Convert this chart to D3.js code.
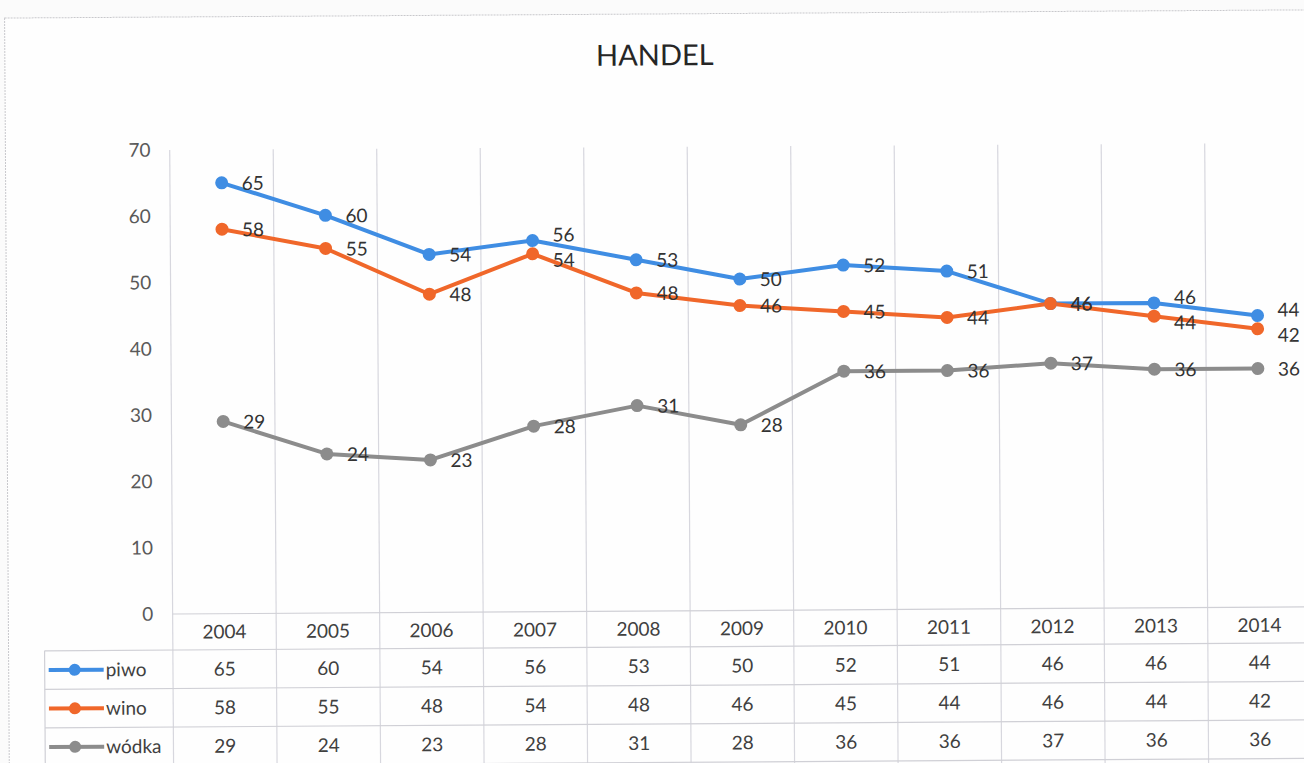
<!DOCTYPE html>
<html>
<head>
<meta charset="utf-8">
<script src="https://cdn.jsdelivr.net/npm/d3@7/dist/d3.min.js"></script>
<style>
  html, body { margin: 0; padding: 0; background: #fbfbfb; }
  svg { display: block; }
  text { font-family: Lato, "Open Sans", sans-serif; }
</style>
</head>
<body>
<svg id="chart" width="1304" height="763"></svg>
<script>
const title = "HANDEL";
const years = ["2004","2005","2006","2007","2008","2009","2010","2011","2012","2013","2014"];
const piwo  = [65, 60, 54, 56, 53, 50, 52, 51, 46, 46, 44];
const wino  = [58, 55, 48, 54, 48, 46, 45, 44, 46, 44, 42];
const wodka = [29, 24, 23, 28, 31, 28, 36, 36, 37, 36, 36];
const seriesNames = ["piwo", "wino", "wódka"];
const seriesColors = ["#3f8de3", "#f0672a", "#8c8c8c"];
const yTicks = [0, 10, 20, 30, 40, 50, 60, 70];

const series = [piwo, wino, wodka].map((vals, i) => ({ name: seriesNames[i], values: vals, color: seriesColors[i] }));

const svg = d3.select("#chart");

const root = svg.append("g").attr("transform", "rotate(-0.36, 650, 400)");

// chart area
root.append("rect").attr("x", 7).attr("y", 14).attr("width", 1400).attr("height", 800)
  .attr("fill", "#fefefe").attr("stroke", "#c8c8cc").attr("stroke-width", 1).attr("stroke-dasharray", "2,1");

const x = d3.scaleBand().domain(years).range([171.3, 171.3 + 11 * 103.5]).padding(0);
const y = d3.scaleLinear().domain([0, 70]).range([611, 147]);

const tableTop = 611, rowLines = [647, 685.5, 724, 762.5];
const tableBottom = 800;

// title
root.append("text").attr("x", 657).attr("y", 58).attr("text-anchor", "middle")
  .attr("dominant-baseline", "middle").attr("font-size", 29).attr("fill", "#262626").text(title);

// vertical gridlines (extend through table)
const grid = root.append("g");
const bounds = years.map(d => x(d)).concat([x(years[years.length - 1]) + x.bandwidth()]);
grid.selectAll("line.v").data(bounds).join("line")
  .attr("x1", d => d).attr("x2", d => d)
  .attr("y1", y(70)).attr("y2", tableBottom)
  .attr("stroke", "#d7d7de").attr("stroke-width", 1.2);

grid.append("line").attr("x1", x.range()[0]).attr("x2", 1400)
  .attr("y1", tableTop).attr("y2", tableTop).attr("stroke", "#d0d0d6").attr("stroke-width", 1.2);
grid.selectAll("line.r").data(rowLines).join("line")
  .attr("x1", 43).attr("x2", 1400).attr("y1", d => d).attr("y2", d => d)
  .attr("stroke", "#d0d0d6").attr("stroke-width", 1.2);
grid.append("line").attr("x1", 43).attr("x2", 43).attr("y1", rowLines[0]).attr("y2", tableBottom)
  .attr("stroke", "#d0d0d6").attr("stroke-width", 1.2);

// y axis labels
const yAxis = d3.axisLeft(y).tickValues(yTicks).tickSize(0).tickPadding(0);
const yg = root.append("g").attr("transform", "translate(152,0)").call(yAxis);
yg.select(".domain").remove();
yg.selectAll("text").attr("font-size", 19).attr("fill", "#595959")
  .style("font-family", "Lato, 'Open Sans', sans-serif");

// header row (years)
const xAxis = d3.axisBottom(x).tickSize(0).tickPadding(0);
const xg = root.append("g").attr("transform", `translate(0,${(tableTop + rowLines[0]) / 2})`).call(xAxis);
xg.select(".domain").remove();
xg.selectAll("text").attr("dy", "0.35em").attr("font-size", 19).attr("fill", "#404040")
  .style("font-family", "Lato, 'Open Sans', sans-serif");

// lines and markers
const cx = i => x(years[i]) + x.bandwidth() / 2;
const lineGen = d3.line().x((d, i) => cx(i)).y(d => y(d));
const plot = root.append("g");
series.forEach(s => {
  plot.append("path").datum(s.values).attr("d", lineGen)
    .attr("fill", "none").attr("stroke", s.color).attr("stroke-width", 4).attr("stroke-linejoin", "round");
});
series.forEach(s => {
  plot.selectAll(null).data(s.values).join("circle")
    .attr("cx", (d, i) => cx(i)).attr("cy", d => y(d))
    .attr("r", 6.5).attr("fill", s.color);
});
// data labels (nudged apart slightly where piwo and wino labels nearly collide)
function nudge(si, i) {
  const diff = piwo[i] - wino[i];
  if (diff > 0 && diff <= 2) return si === 0 ? -6 : (si === 1 ? 6 : 0);
  return 0;
}
series.forEach((s, si) => {
  plot.selectAll(null).data(s.values).join("text")
    .attr("x", (d, i) => cx(i) + 20).attr("y", (d, i) => y(d) + nudge(si, i))
    .attr("dy", "0.38em").attr("font-size", 19).attr("fill", "#333").text(d => d);
});

// table rows
const table = root.append("g");
series.forEach((s, r) => {
  const cy = (rowLines[r] + rowLines[r + 1]) / 2;
  table.append("line").attr("x1", 47).attr("x2", 102).attr("y1", cy).attr("y2", cy)
    .attr("stroke", s.color).attr("stroke-width", 4);
  table.append("circle").attr("cx", 73).attr("cy", cy).attr("r", 6).attr("fill", s.color);
  table.append("text").attr("x", 104).attr("y", cy).attr("dy", "0.35em")
    .attr("font-size", 19).attr("fill", "#404040").text(s.name);
  table.selectAll(null).data(s.values).join("text")
    .attr("x", (d, i) => cx(i)).attr("y", cy).attr("dy", "0.35em")
    .attr("text-anchor", "middle").attr("font-size", 19).attr("fill", "#404040").text(d => d);
});
</script>
</body>
</html>
